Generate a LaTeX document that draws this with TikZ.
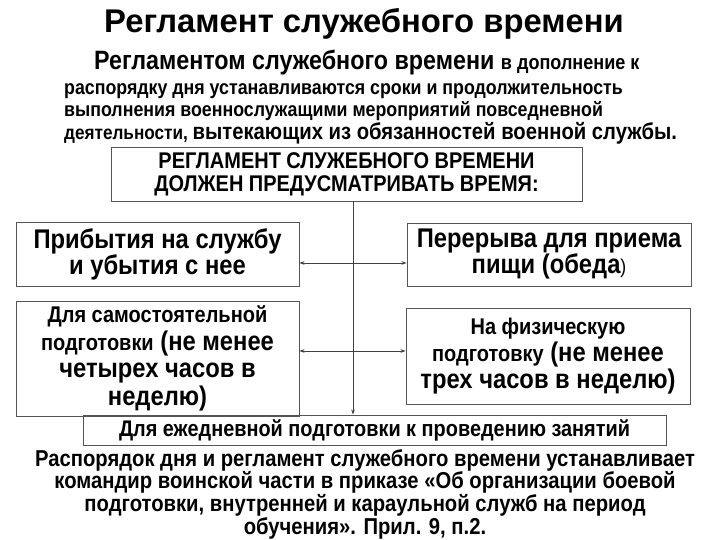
\documentclass[tikz,border=0pt]{standalone}
\usepackage{fontspec}
\setmainfont{Liberation Sans}[FakeStretch=0.88]
\newfontfamily\titlefont{Liberation Sans}
\usetikzlibrary{arrows.meta}
\definecolor{framegray}{HTML}{555555}
\definecolor{linegray}{HTML}{404040}
% size switches: \fsz{size}{skip}
\newcommand{\fsz}[2]{\fontsize{#1}{#2}\selectfont\bfseries}
\tikzset{
  box/.style={draw=framegray, line width=0.9pt, inner sep=0pt, align=center},
  line/.style={anchor=base west, inner sep=0pt},
  link/.style={draw=linegray, line width=0.7pt},
  tip/.style={-{Stealth[length=5pt,width=3.5pt]}},
  twotip/.style={{Stealth[length=5pt,width=3.5pt]}-{Stealth[length=5pt,width=3.5pt]}}
}
\begin{document}
\begin{tikzpicture}[x=1pt,y=-1pt]
\useasboundingbox (0,0) rectangle (720,540);
% title and definition
\node[anchor=base, inner sep=0pt, font=\titlefont\fsz{32.8}{36}] (title) at (364,33) {Регламент служебного времени};
\node[line, font=\fsz{26.5}{30}] (para1) at (94,70) {Регламентом служебного времени {\fsz{20.5}{30}в дополнение к}};
\node[line, font=\fsz{20.2}{24}] (para2) at (64,95) {распорядку дня устанавливаются сроки и продолжительность};
\node[line, font=\fsz{20.2}{24}] (para3) at (64,117) {выполнения военнослужащими мероприятий повседневной};
\node[line, font=\fsz{19.5}{24}] (para4) at (64,140) {деятельности, {\fsz{23}{24}вытекающих из обязанностей военной службы.}};
% boxes
\node[box, minimum width=471, minimum height=54, font=\fsz{22.7}{23}] (head) at (346.5,174)
  {РЕГЛАМЕНТ СЛУЖЕБНОГО ВРЕМЕНИ\\ДОЛЖЕН ПРЕДУСМАТРИВАТЬ ВРЕМЯ:};
\node[box, minimum width=283, minimum height=64, font=\fsz{27}{26}] (arrive) at (157.5,254)
  {Прибытия на службу\\и убытия с нее};
\node[box, minimum width=284, minimum height=63, font=\fsz{27}{26}] (lunch) at (549,254.5)
  {Перерыва для приема\\пищи (обеда{\fontsize{20}{26}\selectfont\mdseries)}};
\node[box, minimum width=283, minimum height=115, font=\fsz{27}{27.5}] (selfstudy) at (157.5,358.5)
  {{\fsz{22.7}{27.5}Для самостоятельной}\\{\fsz{22.7}{27.5}подготовки} (не менее\\четырех часов в\\неделю)};
\node[box, minimum width=284, minimum height=96, font=\fsz{27}{27}] (sport) at (548,356)
  {{\fsz{22.7}{27}На физическую}\\{\fsz{22.7}{27}подготовку} (не менее\\трех часов в неделю)};
\node[box, minimum width=583, minimum height=30, font=\fsz{22.6}{26}] (daily) at (374.5,430)
  {Для ежедневной подготовки к проведению занятий};
% closing note
\node[anchor=north, inner sep=0pt, align=center, font=\fsz{23}{22.8}] (note) at (365,449)
  {Распорядок дня и регламент служебного времени устанавливает\\
   командир воинской части в приказе «Об организации боевой\\
   подготовки, внутренней и караульной служб на период\\
   обучения». Прил. 9, п.2.};
% connectors
\coordinate (trunk) at (353,201);
\draw[link, tip] (trunk) -- (trunk |- daily.north);
\path ([yshift=-9pt]arrive.east) coordinate (row1);
\draw[link, twotip] (row1) -- (row1 -| lunch.west);
\path ([yshift=7.5pt]selfstudy.east) coordinate (row2);
\draw[link, twotip] (row2) -- (row2 -| sport.west);
\end{tikzpicture}
\end{document}
